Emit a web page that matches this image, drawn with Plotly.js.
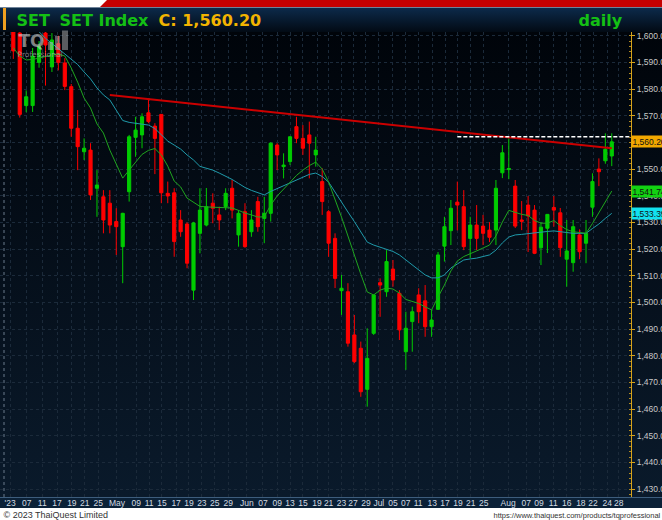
<!DOCTYPE html>
<html>
<head>
<meta charset="utf-8">
<script src="https://cdn.plot.ly/plotly-3.0.1.min.js"></script>
<style>
body{margin:0;background:#fff;}
#wrap{position:relative;width:662px;height:520px;overflow:hidden;background:#fff;}
.bg{position:absolute;}
#red{left:100px;top:0;width:562px;height:7px;background:#c60000;clip-path:polygon(7px 0,100% 0,100% 100%,0 100%);}
#sep{left:0;top:7px;width:662px;height:1px;background:#6f8399;}
#tbar{left:0;top:8px;width:662px;height:24px;background:linear-gradient(#0c2a4a,#020a14);}
#pbg{left:0;top:32px;width:662px;height:465px;background:linear-gradient(#00040a,#0a1a2b);}
#xstrip{left:0;top:497px;width:662px;height:11px;background:#0b2137;border-top:1px solid #3d5d7d;box-sizing:border-box;}
#obar{left:3px;top:8px;width:3px;height:22px;background:#f0a020;}
#chart{position:absolute;left:0;top:0;width:662px;height:520px;}
</style>
</head>
<body>
<div id="wrap">
  <div class="bg" id="red"></div>
  <div class="bg" id="sep"></div>
  <div class="bg" id="tbar"></div>
  <div class="bg" id="pbg"></div>
  <div class="bg" id="xstrip"></div>
  <div class="bg" id="obar"></div>
  <div id="chart"></div>
</div>
<script>
// ---- data ----
const open = [1601.5,1601.0,1573.8,1573.8,1590.0,1601.0,1588.3,1597.0,1589.8,1580.9,
1565.3,1556.5,1557.1,1542.8,1539.6,1537.2,1530.3,1520.9,1541.5,1561.9,
1562.8,1571.1,1566.1,1570.5,1540.9,1541.1,1530.9,1529.4,1504.6,1525.9,
1529.0,1537.2,1532.8,1535.9,1542.8,1525.3,1534.0,1526.5,1537.8,1531.5,
1533.4,1559.0,1550.9,1552.8,1565.9,1561.5,1562.8,1555.3,1545.3,1534.0,
1524.0,1504.4,1504.0,1487.8,1482.8,1467.4,1488.4,1507.4,1504.0,1512.5,
1503.4,1481.5,1492.8,1502.8,1500.6,1490.9,1497.4,1521.1,1526.9,1537.6,
1535.9,1524.0,1529.0,1528.6,1527.1,1527.1,1548.6,1549.8,1543.6,1530.9,
1536.5,1534.6,1520.5,1527.8,1535.6,1533.6,1516.2,1514.9,1525.3,1522.2,
1535.7,1550.0,1553.1,1554.9];
const high = [1603.0,1602.5,1579.5,1595.4,1598.0,1602.0,1601.0,1600.0,1591.6,1581.9,
1572.1,1561.5,1559.7,1549.6,1542.1,1542.1,1535.3,1533.6,1562.8,1569.6,
1570.9,1576.5,1567.2,1570.6,1545.3,1542.8,1534.6,1530.0,1530.2,1542.8,
1542.9,1540.9,1535.9,1542.8,1545.9,1534.6,1537.2,1534.6,1539.6,1539.6,
1560.0,1559.7,1555.9,1562.3,1569.6,1566.5,1567.8,1562.1,1550.3,1534.6,
1525.9,1510.3,1507.2,1495.3,1485.3,1490.3,1503.0,1509.0,1519.6,1515.9,
1504.6,1496.5,1498.4,1505.3,1506.5,1497.2,1518.9,1532.1,1538.4,1545.3,
1542.1,1532.1,1536.5,1532.8,1530.1,1545.9,1559.0,1561.5,1545.9,1538.0,
1539.9,1536.5,1530.1,1533.1,1539.9,1535.4,1530.9,1530.9,1527.4,1530.9,
1548.4,1554.0,1563.4,1563.4];
const low = [1591.3,1569.3,1571.3,1571.4,1588.0,1581.3,1586.4,1587.0,1579.6,1562.1,
1549.6,1553.4,1538.4,1532.1,1525.9,1525.9,1517.8,1507.2,1537.8,1554.6,
1557.8,1567.2,1548.1,1537.2,1537.2,1517.1,1524.6,1512.8,1500.9,1518.4,
1528.5,1529.7,1527.1,1534.6,1531.5,1520.9,1520.5,1524.6,1526.5,1522.2,
1530.3,1549.6,1546.5,1551.5,1559.7,1555.3,1546.5,1550.9,1532.8,1517.1,
1505.4,1495.3,1483.4,1477.2,1464.6,1460.9,1487.8,1494.6,1502.1,1505.9,
1485.9,1474.7,1481.5,1492.2,1487.1,1487.1,1497.2,1515.3,1521.5,1527.0,
1519.6,1516.6,1519.6,1521.5,1522.6,1521.5,1546.6,1546.2,1527.9,1527.1,
1518.9,1518.1,1514.0,1518.5,1528.4,1517.1,1505.9,1511.5,1516.2,1514.7,
1532.1,1543.6,1552.0,1551.1];
const close = [1594.3,1570.5,1577.1,1592.3,1596.0,1596.5,1598.4,1590.0,1581.0,1565.3,
1558.4,1557.8,1540.3,1544.0,1530.9,1529.0,1528.4,1533.4,1562.1,1564.6,
1569.6,1567.8,1561.5,1541.1,1539.9,1522.8,1526.5,1514.7,1529.8,1534.6,
1535.9,1535.3,1530.9,1540.9,1534.6,1533.4,1520.9,1530.9,1528.4,1533.4,
1559.7,1555.3,1551.5,1562.1,1561.5,1557.8,1559.7,1557.1,1537.8,1522.2,
1509.0,1505.3,1484.7,1477.8,1466.5,1479.0,1502.8,1506.5,1515.3,1508.4,
1489.7,1490.3,1496.5,1496.5,1490.9,1493.4,1517.8,1528.4,1535.3,1536.5,
1520.9,1529.0,1524.0,1525.9,1524.4,1542.8,1556.1,1550.2,1528.6,1530.4,
1532.4,1518.4,1528.2,1533.0,1534.6,1520.5,1519.3,1528.4,1519.0,1525.9,
1545.3,1549.0,1557.4,1560.2];
// fast moving average (green line)
const maFast = [1595.4,1592.4,1590.9,1591.1,1591.6,1592.2,1592.8,1593.1,1592.4,1587.9,
1582.6,1576.6,1572.9,1566.9,1563.5,1557.1,1551.5,1546.6,1549.6,1552.6,
1555.5,1557.0,1557.7,1555.3,1551.1,1545.5,1543.3,1539.1,1537.6,1536.0,
1535.8,1535.7,1535.7,1535.7,1535.4,1534.5,1533.5,1532.8,1532.0,1532.1,
1536.5,1539.9,1542.5,1545.3,1547.6,1549.6,1551.3,1552.6,1550.0,1545.1,
1538.8,1532.0,1524.9,1517.4,1510.6,1503.9,1502.8,1504.6,1505.4,1505.0,
1503.5,1501.1,1500.2,1499.6,1498.3,1497.2,1502.0,1506.5,1511.8,1515.5,
1517.2,1518.4,1519.3,1520.4,1521.5,1524.9,1530.1,1534.5,1533.7,1533.0,
1532.6,1530.7,1529.7,1529.7,1530.7,1528.8,1527.3,1526.5,1526.2,1525.9,
1529.6,1533.7,1537.6,1541.74];
// slow moving average (cyan line)
const maSlow = [null,null,null,null,1601.5,1599.0,1597.1,1595.2,1593.1,1591.3,
1589.2,1586.4,1583.8,1580.4,1577.8,1575.9,1572.1,1568.2,1567.5,1567.1,
1566.9,1566.5,1565.2,1562.8,1560.5,1559.0,1557.5,1555.3,1553.4,1551.0,
1550.2,1549.6,1548.5,1547.4,1546.1,1544.6,1543.1,1542.0,1541.0,1540.3,
1541.6,1542.7,1543.6,1544.7,1545.9,1547.0,1548.0,1548.5,1547.2,1545.1,
1541.2,1537.6,1533.9,1530.3,1526.4,1522.6,1521.5,1520.6,1519.8,1519.1,
1517.8,1515.9,1514.0,1512.2,1510.3,1509.2,1509.2,1510.3,1512.9,1514.4,
1515.9,1516.3,1516.6,1517.2,1517.8,1519.6,1522.3,1524.5,1525.3,1525.5,
1525.8,1526.2,1526.4,1526.6,1526.8,1526.6,1526.2,1525.9,1525.9,1525.9,
1527.7,1529.4,1531.5,1533.39];
// trend line and resistance (candle index, price)
const trendX = [15, 93];
const trendY = [1577.8, 1557.8];
const resistX = [69, 96];
const resistY = [1562.1, 1562.1];
// x-axis labels and their positions (candle-index units)
const tickText = ["'23","07","11","17","19","21","25","May","09","11","15","17","19","23","25","29",
"Jun","07","09","13","15","19","21","23","27","29","Jul","05","07","11","13","17","19","21","25",
"Aug","07","09","11","16","18","22","24","28"];
const tickPos = [-0.5,2.1,4.5,6.8,9.1,11.1,13.2,16.1,19.1,21.1,23.1,25.3,27.3,29.3,31.3,33.4,
36.3,38.8,41.0,43.0,45.0,47.2,49.0,51.0,52.8,54.8,56.8,59.0,61.0,62.9,65.1,67.1,69.1,71.1,73.1,
76.9,79.7,81.7,83.9,86.0,88.2,90.1,92.3,94.1];

const idx = close.map((_, i) => i);

// ---- layout helpers (pixel -> paper) ----
const PW = 631, PH = 465, TOP = 32;
const px = v => v / PW;
const py = v => (TOP + PH - v) / PH;
const fmt = v => v.toLocaleString('en-US', {minimumFractionDigits: 2, maximumFractionDigits: 2});

const traces = [
  {type: 'scatter', mode: 'lines', x: idx, y: maSlow, line: {color: '#1f9aaa', width: 1}, hoverinfo: 'skip', connectgaps: false},
  {type: 'scatter', mode: 'lines', x: idx, y: maFast, line: {color: '#1fa51f', width: 1}, hoverinfo: 'skip'},
  {type: 'scatter', mode: 'lines', x: trendX, y: trendY, line: {color: '#cc0000', width: 2}, hoverinfo: 'skip'},
  {type: 'scatter', mode: 'lines', x: resistX, y: resistY, line: {color: '#ffffff', width: 1.5, dash: '4px,2px'}, hoverinfo: 'skip'},
  {type: 'candlestick', x: idx, open: open, high: high, low: low, close: close,
   increasing: {line: {color: '#00cc00', width: 1}, fillcolor: '#00cc00'},
   decreasing: {line: {color: '#ff0000', width: 1}, fillcolor: '#ff0000'},
   whiskerwidth: 0, hoverinfo: 'skip'}
];

const last = close[close.length - 1];
const titleFont = {family: 'DejaVu Sans', size: 16, weight: 'bold'};

const annotations = [
  {text: 'SET', x: px(15), y: py(20), font: Object.assign({color: '#14c014'}, titleFont)},
  {text: 'SET Index', x: px(58), y: py(20), font: Object.assign({color: '#14c014'}, titleFont)},
  {text: 'C: ' + fmt(last), x: px(157), y: py(20), font: Object.assign({color: '#f2b400'}, titleFont)},
  {text: 'daily', x: px(577), y: py(20), font: Object.assign({color: '#14c014'}, titleFont)},
  {text: 'TQ', x: px(17), y: py(40.5), font: {family: 'DejaVu Sans', size: 17, weight: 'bold', color: 'rgba(215,215,215,0.6)'}},
  {text: 'Professional', x: px(16), y: py(53.5), font: {family: 'DejaVu Sans', size: 7.5, color: 'rgba(200,200,200,0.6)'}},
  {text: '© 2023 ThaiQuest Limited', x: px(2), y: py(514.5), font: {family: 'Liberation Sans', size: 9, color: '#333333'}},
  {text: 'https://www.thaiquest.com/products/tqprofessional', x: px(662), xanchor: 'right', y: py(514.5), font: {family: 'Liberation Sans', size: 7.5, color: '#333333'}},
  {text: fmt(last), x: 1, yref: 'y', y: last, bgcolor: '#f2a800', font: {family: 'Liberation Sans', size: 8.5, color: '#111111'}},
  {text: fmt(maFast[maFast.length - 1]), x: 1, yref: 'y', y: maFast[maFast.length - 1], bgcolor: '#12d212', font: {family: 'Liberation Sans', size: 8.5, color: '#111111'}},
  {text: fmt(maSlow[maSlow.length - 1]), x: 1, yref: 'y', y: maSlow[maSlow.length - 1], bgcolor: '#12e2f0', font: {family: 'Liberation Sans', size: 8.5, color: '#111111'}}
].map(a => Object.assign({xref: 'paper', yref: 'paper', xanchor: 'left', yanchor: 'middle', showarrow: false, borderpad: 0.5}, a));

const shapes = [
  {type: 'line', xref: 'paper', yref: 'paper', x0: px(4), x1: px(4), y0: 0, y1: 1, line: {color: '#6a7a8c', width: 1, dash: 'dot'}},
  {type: 'rect', xref: 'paper', yref: 'paper', x0: px(48), x1: px(53), y0: py(50), y1: py(42), fillcolor: 'rgba(200,200,200,0.45)', line: {width: 0}, layer: 'above'},
  {type: 'rect', xref: 'paper', yref: 'paper', x0: px(55), x1: px(60), y0: py(50), y1: py(36), fillcolor: 'rgba(200,200,200,0.45)', line: {width: 0}, layer: 'above'},
  {type: 'rect', xref: 'paper', yref: 'paper', x0: px(62), x1: px(68), y0: py(50), y1: py(30.5), fillcolor: 'rgba(200,200,200,0.45)', line: {width: 0}, layer: 'above'}
];

const layout = {
  width: 662, height: 520,
  margin: {l: 0, r: 31, t: 32, b: 23, pad: 0},
  paper_bgcolor: 'rgba(0,0,0,0)', plot_bgcolor: 'rgba(0,0,0,0)',
  showlegend: false,
  boxgap: 0.3,
  xaxis: {
    range: [-2.07, 95.99], tickmode: 'array', tickvals: tickPos, ticktext: tickText,
    tickangle: 0, ticklabelstandoff: -1,
    tickfont: {family: 'Liberation Sans', size: 8.5, color: '#d4dbe2'},
    ticks: '', showgrid: true, gridcolor: '#1b2a3a', griddash: 'dot', gridwidth: 1,
    showline: false, zeroline: false, rangeslider: {visible: false}, automargin: false, fixedrange: true
  },
  yaxis: {
    side: 'right', range: [1427.03, 1601.39], tick0: 1430, dtick: 10, tickformat: ',.2f',
    tickfont: {family: 'Liberation Sans', size: 8.5, color: '#c8c8c8'},
    showline: true, linecolor: '#d6a21a', linewidth: 1, mirror: false,
    ticks: 'outside', ticklen: 3, tickcolor: '#d6a21a',
    minor: {dtick: 2, ticks: 'inside', ticklen: 2, tickcolor: '#b08a20', showgrid: false},
    gridcolor: '#1b2a3a', griddash: 'dot', gridwidth: 1,
    zeroline: false, automargin: false, fixedrange: true
  },
  annotations: annotations,
  shapes: shapes
};

Plotly.newPlot('chart', traces, layout, {staticPlot: true, displayModeBar: false});
</script>
</body>
</html>
